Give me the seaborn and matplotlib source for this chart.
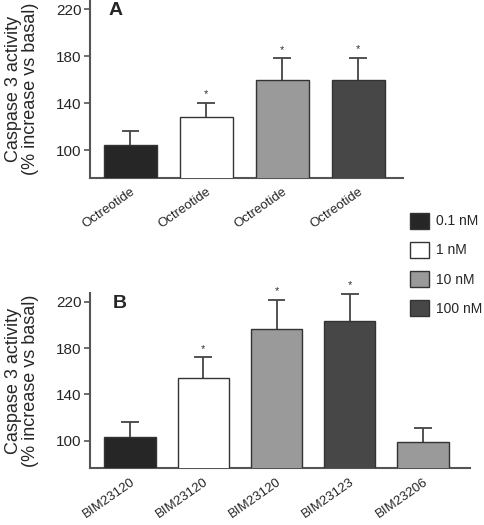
import matplotlib
matplotlib.use("Agg")
import matplotlib.pyplot as plt
import seaborn as sns
import pandas as pd
from matplotlib.patches import Patch

sns.set_style("white")
plt.rcParams['font.family'] = ['Liberation Sans', 'DejaVu Sans']

# Panel A data
a_labels = ["Octreotide", "Octreotide", "Octreotide", "Octreotide"]
a_conc = ["0.1 nM", "1 nM", "10 nM", "100 nM"]
a_mean = [104, 128, 160, 160]
a_err = [12, 12, 18, 18.5]
a_sig = [False, True, True, True]

# Panel B data
b_labels = ["BIM23120", "BIM23120", "BIM23120", "BIM23123", "BIM23206"]
b_conc = ["0.1 nM", "1 nM", "10 nM", "100 nM", "10 nM"]
b_mean = [103.5, 154.5, 196, 203, 99]
b_err = [12.5, 17.5, 25.5, 24, 12]
b_sig = [False, True, True, True, False]

legend_labels = ["0.1 nM", "1 nM", "10 nM", "100 nM"]
palette = {"0.1 nM": "#262626", "1 nM": "#ffffff", "10 nM": "#9a9a9a", "100 nM": "#474747"}

yticks = [100, 140, 180, 220]

fig = plt.figure(figsize=(4.84, 5.25), dpi=100)
axA = fig.add_axes([90/484, 1-178/525, 313/484, 178/525])
axB = fig.add_axes([90/484, 1-468/525, 380/484, 175/525])

spine_col = "#555555"

def draw(ax, labels, conc, mean, err, sig, ylim, xlim, letter, capw):
    df = pd.DataFrame({"pos": [str(i) for i in range(len(labels))],
                       "conc": conc, "mean": mean})
    sns.barplot(data=df, x="pos", y="mean", hue="conc", palette=palette,
                dodge=False, width=0.7, edgecolor="#333333", linewidth=1.0,
                legend=False, ax=ax)
    for p in ax.patches:
        p.set_zorder(3)
    xs = list(range(len(labels)))
    tops = [m + e for m, e in zip(mean, err)]
    ax.vlines(xs, mean, tops, colors="#444444", linewidth=1.3, zorder=2)
    ax.hlines(tops, [x - capw for x in xs], [x + capw for x in xs],
              colors="#444444", linewidth=1.3, zorder=2)
    for x, t, s in zip(xs, tops, sig):
        if s:
            ax.text(x, t + 3, "*", ha="center", va="bottom", fontsize=8, color="#333333")
    ax.set_ylim(*ylim)
    ax.set_xlim(*xlim)
    ax.set_yticks(yticks)
    ax.set_yticklabels([str(t) for t in yticks], fontsize=11)
    ax.set_xticks(xs)
    ax.set_xticklabels(labels, rotation=35, ha="right", rotation_mode="anchor", fontsize=9.5)
    ax.tick_params(axis="y", left=True, length=4, width=1.2, color=spine_col, pad=2)
    ax.tick_params(axis="x", bottom=False, pad=2)
    for sp in ["top", "right"]:
        ax.spines[sp].set_visible(False)
    for sp in ["left", "bottom"]:
        ax.spines[sp].set_color(spine_col)
        ax.spines[sp].set_linewidth(1.5)
    ax.set_xlabel("")
    ax.set_ylabel("Caspase 3 activity\n(% increase vs basal)", fontsize=13, labelpad=12,
                  linespacing=1.0)
    ax.text(0.06, 0.99, letter, transform=ax.transAxes, fontsize=14, fontweight="bold",
            ha="left", va="top")

draw(axA, a_labels, a_conc, a_mean, a_err, a_sig, (76.2, 227.7), (-0.53, 3.59), "A", 0.115)
draw(axB, b_labels, b_conc, b_mean, b_err, b_sig, (76.4, 227.5), (-0.546, 4.64), "B", 0.12)

handles = [Patch(facecolor=palette[c], edgecolor="#333333", linewidth=1.0) for c in legend_labels]
fig.legend(handles, legend_labels, loc="upper left", bbox_to_anchor=(404/484, 1-207/525),
           frameon=False, fontsize=10, handlelength=1.4, handleheight=1.4,
           labelspacing=0.95, handletextpad=0.5, borderaxespad=0)

fig.savefig("out.png", dpi=100)
